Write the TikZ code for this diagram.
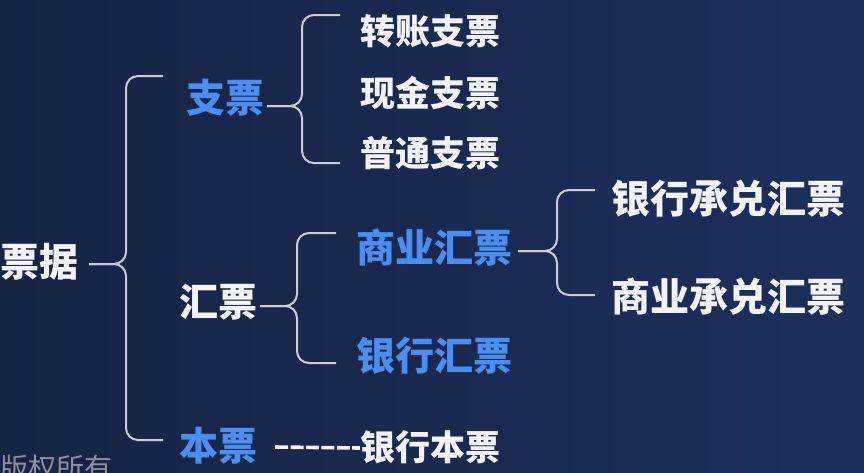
\documentclass[tikz,border=0pt]{standalone}
\usepackage{fontspec}
\setmainfont{Noto Sans CJK SC}
\definecolor{bgl}{HTML}{172343}
\definecolor{bgr}{HTML}{1C2F5C}
\definecolor{txtw}{HTML}{F2F4F8}
\definecolor{txtb}{HTML}{4A8EF2}
\definecolor{brc}{HTML}{C9CDD6}
\definecolor{wm}{HTML}{8C919C}
\tikzset{
  big/.style={inner sep=0pt, font=\fontsize{39}{39}\selectfont\bfseries},
  small/.style={inner sep=0pt, font=\fontsize{35}{35}\selectfont\bfseries},
  wt/.style={text=txtw},
  bl/.style={text=txtb},
  bracearm/.style={draw=brc, line width=2pt, rounded corners=12pt},
  dashlink/.style={draw=txtw, line width=3.6pt, dash pattern=on 13pt off 2.4pt},
}
\begin{document}
\begin{tikzpicture}[x=1pt,y=-1pt]
\useasboundingbox (0,0) rectangle (864,472);
\clip (0,0) rectangle (864,472);
\shade[left color=bgl, right color=bgr] (0,0) rectangle (864,472);

% nodes
\node[big,wt] (piao) at (40,262) {票据};
\node[big,bl] (zhi) at (225,98) {支票};
\node[big,wt] (hui) at (218,302) {汇票};
\node[big,bl] (ben) at (218,446) {本票};
\node[small,wt] (zz) at (430,31) {转账支票};
\node[small,wt] (xj) at (430,93) {现金支票};
\node[small,wt] (pt) at (430,153) {普通支票};
\node[big,bl] (syhp) at (434,248) {商业汇票};
\node[big,bl] (yhhp) at (434,356) {银行汇票};
\node[small,wt] (yhbp) at (430,447) {银行本票};
\node[big,wt] (yhcd) at (728,199) {银行承兑汇票};
\node[big,wt] (sycd) at (728,297) {商业承兑汇票};
\node[inner sep=0pt, anchor=base west, text=wm, font=\fontsize{28}{28}\selectfont] (wmk) at (0,478) {版权所有};

% brace arm ends
\coordinate (a1t) at (163,76);
\coordinate (a1b) at (163,440);
\coordinate (a2t) at (340,15);
\coordinate (a2b) at (340,163);
\coordinate (a3t) at (336,233);
\coordinate (a3b) at (336,363);
\coordinate (a4t) at (595,190);
\coordinate (a4b) at (595,295);

% braces
\draw[bracearm] ([xshift=10pt,yshift=-2pt]piao.east) -| ([xshift=-37pt]a1t) -- (a1t);
\draw[bracearm] ([xshift=10pt,yshift=-2pt]piao.east) -| ([xshift=-37pt]a1b) -- (a1b);
\draw[bracearm] ([xshift=3pt,yshift=-8pt]zhi.east) -| ([xshift=-38pt]a2t) -- (a2t);
\draw[bracearm] ([xshift=3pt,yshift=-8pt]zhi.east) -| ([xshift=-38pt]a2b) -- (a2b);
\draw[bracearm] ([xshift=3pt,yshift=-4pt]hui.east) -| ([xshift=-39pt]a3t) -- (a3t);
\draw[bracearm] ([xshift=3pt,yshift=-4pt]hui.east) -| ([xshift=-39pt]a3b) -- (a3b);
\draw[bracearm] ([xshift=6pt,yshift=-3pt]syhp.east) -| ([xshift=-38pt]a4t) -- (a4t);
\draw[bracearm] ([xshift=6pt,yshift=-3pt]syhp.east) -| ([xshift=-38pt]a4b) -- (a4b);

% dashed link
\draw[dashlink] ([xshift=18pt,yshift=-1pt]ben.east) -- ([yshift=-1pt]yhbp.west);
\end{tikzpicture}
\end{document}
